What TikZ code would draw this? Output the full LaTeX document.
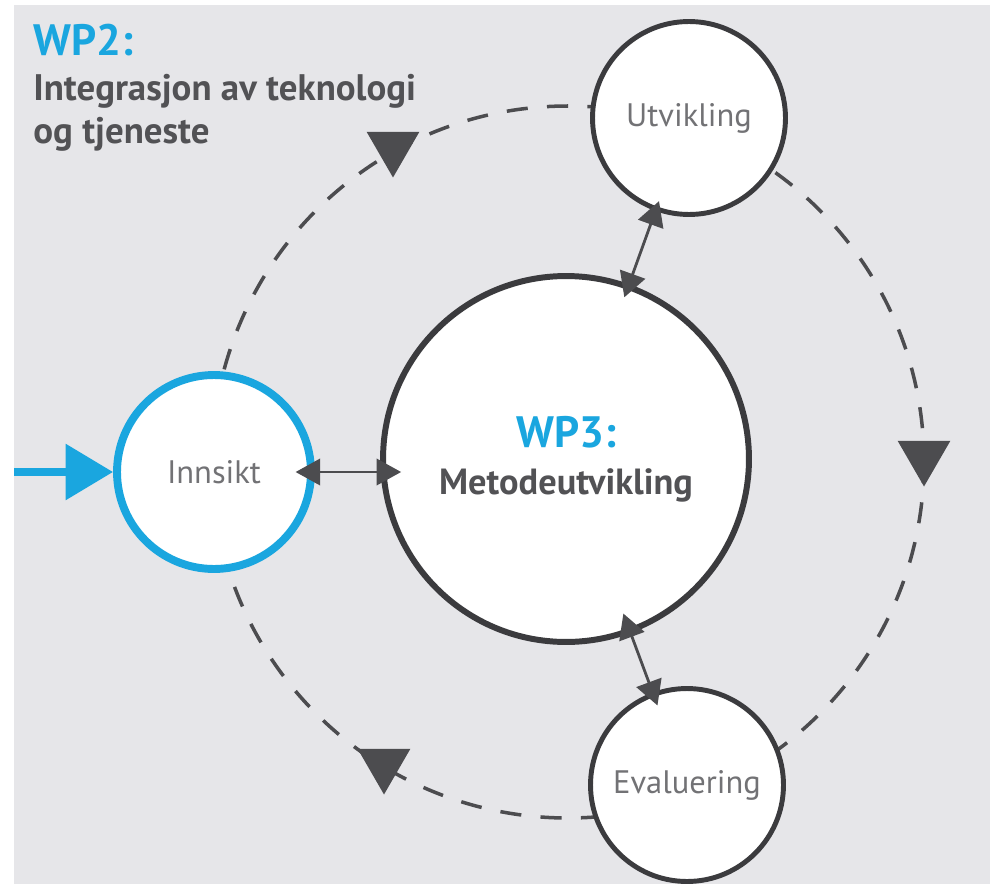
\documentclass[tikz,border=0pt]{standalone}
\usepackage{fontspec}
\setmainfont{PT Sans}
\usetikzlibrary{arrows.meta,
                shapes.geometric}
\definecolor{wpblue}{HTML}{1AA6DF}
\definecolor{ringgray}{HTML}{3B3B3E}
\definecolor{markgray}{HTML}{4C4C4F}
\definecolor{labelgray}{HTML}{727275}
\definecolor{titlegray}{HTML}{525255}
\definecolor{paper}{HTML}{E6E6E9}

\begin{document}
\begin{tikzpicture}%
    [x = 0.02cm, y = -0.02cm,
     stage/.style = {circle, draw = ringgray, line width = 2.8pt, fill = white,
                     minimum size = 3.86cm, inner sep = 0pt, text = labelgray,
                     font = \fontsize{18.5}{22}\selectfont},
     core/.style = {stage, line width = 3.4pt, minimum size = 7.32cm, align = center,
                    text = titlegray, font = \fontsize{20.7}{27}\selectfont\bfseries},
     loopline/.style = {draw = markgray, line width = 2pt, dash pattern = on 12pt off 11pt},
     flowmark/.style = {regular polygon, regular polygon sides = 3, shape border rotate = 180,
                        fill = markgray, minimum size = 1.22cm, inner sep = 0pt},
     link/.style = {{Triangle[length=14pt, width=15pt]}-{Triangle[length=14pt, width=15pt]},
                    draw = markgray, line width = 1.6pt},
     feed/.style = {-{Triangle[length=27pt, width=31pt]}, draw = wpblue, line width = 4.5pt}]
    \fill[white] (0, 0) rectangle (990, 889);
    \fill[paper] (14, 5) rectangle (990, 884);
    \useasboundingbox (0, 0) rectangle (990, 889);

    \coordinate (hub) at (568, 462);
    \draw[loopline] (hub) circle (356);

    \node[flowmark] (markA) at (393, 147) {};
    \node[flowmark] (markB) at (924, 456) {};
    \node[flowmark] (markC) at (384, 764) {};

    \node[stage] (utv) at (689, 118) {Utvikling};
    \node[stage] (eval) at (687, 785) {Evaluering};
    \node[stage, draw = wpblue, line width = 4.5pt, minimum size = 3.88cm] (innsikt) at (214, 472) {Innsikt};
    \node[core] (metode) at (566, 459) {{\color{wpblue}\fontsize{25}{30}\selectfont WP3:}\\Metodeutvikling};

    \node[anchor = base west, inner sep = 0pt, text = wpblue,
          font = \fontsize{25}{30}\selectfont\bfseries] (wp2) at (33, 55) {WP2:};
    \node[anchor = base west, inner sep = 0pt, align = left, text = titlegray,
          font = \fontsize{21}{24.4}\selectfont\bfseries] (wp2name) at (33, 143) {Integrasjon av teknologi\\og tjeneste};

    \coordinate (entry) at (14, 472);
    \draw[feed] (entry) -- (innsikt);
    \draw[link, shorten <= -11pt, shorten >= -12pt] (innsikt.east) -- (innsikt.east -| metode.west);
    \draw[link, shorten <= -8pt, shorten >= -6pt] (metode) -- (utv);
    \draw[link, shorten <= -12pt, shorten >= -8pt] (metode) -- (eval);
\end{tikzpicture}
\end{document}
